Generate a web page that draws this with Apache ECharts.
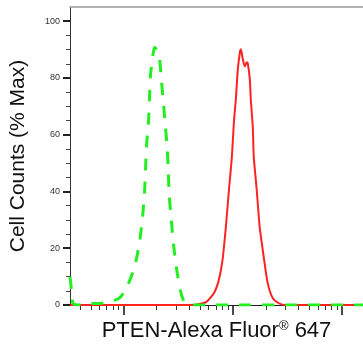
<!DOCTYPE html>
<html>
<head>
<meta charset="utf-8">
<script src="https://cdn.jsdelivr.net/npm/echarts@6/dist/echarts.min.js"></script>
<style>
  html, body { margin: 0; padding: 0; background: #fff; }
  #chart { width: 363px; height: 356px; }
</style>
</head>
<body>
<div id="chart"></div>
<script>
// x positions are log10 of fluorescence intensity
const isotypeX = [2.509, 2.523, 2.536, 2.573, 2.682, 2.755, 2.8, 2.873, 2.964, 3.027, 3.1, 3.145, 3.173, 3.191, 3.2, 3.209, 3.227, 3.236, 3.245, 3.264, 3.282, 3.3, 3.327, 3.345, 3.364, 3.382, 3.4, 3.409, 3.418, 3.436, 3.455, 3.482, 3.518, 3.555, 3.6, 3.664, 4.0, 4.5, 5.2];
const isotypeY = [10, 5, 0.5, 0, 0.5, 0.5, 0.6, 1, 2.5, 6, 13.4, 21.9, 31, 39.6, 47.7, 55.8, 64.3, 72.4, 80.6, 87, 90.8, 90, 87.3, 79.5, 71.4, 62.9, 54.8, 46.6, 38.2, 30, 21.9, 13.4, 5.3, 1, 0.3, 0, 0, 0, 0];

const ptenX = [2.509, 3.618, 3.682, 3.755, 3.827, 3.864, 3.891, 3.909, 3.936, 3.964, 3.991, 4.009, 4.027, 4.045, 4.064, 4.073, 4.091, 4.109, 4.127, 4.136, 4.155, 4.164, 4.182, 4.191, 4.218, 4.245, 4.282, 4.318, 4.364, 4.418, 4.482, 5.2];
const ptenY = [0, 0, 0.3, 1, 4.2, 7.8, 12.4, 17, 27.6, 40.6, 52.3, 64.3, 72.4, 83, 89, 90.1, 86.6, 84.1, 85.5, 85.2, 79.5, 72.4, 62.9, 52.3, 40.6, 27.6, 17, 7.8, 2.5, 0.7, 0, 0];

const xMajorTicks = [3, 4, 5];
const xMinorTicks = [];
[2, 3, 4].forEach(d => {
  for (let k = 2; k <= 9; k++) xMinorTicks.push(Math.log10(k) + d);
});
const yMajorTicks = [0, 20, 40, 60, 80, 100];
const yMinorTicks = [5, 10, 15, 25, 30, 35, 45, 50, 55, 65, 70, 75, 85, 90, 95];

const X_MIN = 2.509, X_MAX = 5.191;
const font = "'Liberation Sans', Arial, sans-serif";
const zip = (xs, ys) => xs.map((x, i) => [x, ys[i]]);

const chart = echarts.init(document.getElementById('chart'), null, { renderer: 'canvas' });
chart.setOption({
  animation: false,
  grid: { left: 68, right: 0, top: 7, bottom: 51, containLabel: false },
  xAxis: [
    {
      type: 'value', min: X_MIN, max: X_MAX, position: 'bottom',
      axisLine: { lineStyle: { color: '#222', width: 1 } },
      axisTick: { customValues: xMajorTicks, length: 10, lineStyle: { color: '#111', width: 1.5 } },
      axisLabel: { show: false },
      splitLine: { show: false },
      name: '{a|PTEN-Alexa Fluor}{s|®}{a| 647}',
      nameLocation: 'middle',
      nameGap: 15,
      nameTextStyle: {
        rich: {
          a: { fontSize: 22, fontFamily: font, color: '#111' },
          s: { fontSize: 13, fontFamily: font, color: '#111', padding: [0, 0, 9, 0] }
        }
      }
    },
    {
      type: 'value', min: X_MIN, max: X_MAX, position: 'bottom',
      axisLine: { show: false },
      axisTick: { customValues: xMinorTicks, length: 5, lineStyle: { color: '#333', width: 1 } },
      axisLabel: { show: false },
      splitLine: { show: false }
    },
    {
      type: 'value', min: X_MIN, max: X_MAX, position: 'top',
      axisLine: { lineStyle: { color: '#999', width: 1.5 } },
      axisTick: { show: false },
      axisLabel: { show: false },
      splitLine: { show: false }
    }
  ],
  yAxis: [
    {
      type: 'value', min: 0, max: 105, position: 'left',
      axisLine: { show: true, lineStyle: { color: '#333', width: 1 } },
      axisTick: { show: true, customValues: yMajorTicks, length: 7, lineStyle: { color: '#222', width: 2 } },
      axisLabel: { customValues: yMajorTicks, margin: 10, fontSize: 9, fontFamily: "'Liberation Sans Narrow', " + font, color: '#333' },
      splitLine: { show: false },
      name: 'Cell Counts (% Max)',
      nameLocation: 'middle',
      nameGap: 41,
      nameTextStyle: { fontSize: 21, fontFamily: font, color: '#111' }
    },
    {
      type: 'value', min: 0, max: 105, position: 'left',
      axisLine: { show: false },
      axisTick: { show: true, customValues: yMinorTicks, length: 4, lineStyle: { color: '#444', width: 1 } },
      axisLabel: { show: false },
      splitLine: { show: false }
    }
  ],
  series: [
    {
      name: 'PTEN', type: 'line', xAxisIndex: 0, yAxisIndex: 0,
      data: zip(ptenX, ptenY), showSymbol: false, smooth: 0.2,
      lineStyle: { color: '#ff2222', width: 2 }, z: 3
    },
    {
      name: 'Isotype', type: 'line', xAxisIndex: 0, yAxisIndex: 0,
      data: zip(isotypeX, isotypeY), showSymbol: false, smooth: 0.2,
      lineStyle: { color: '#22ee22', width: 3, type: [12, 11] }, z: 4
    }
  ]
});
</script>
</body>
</html>
